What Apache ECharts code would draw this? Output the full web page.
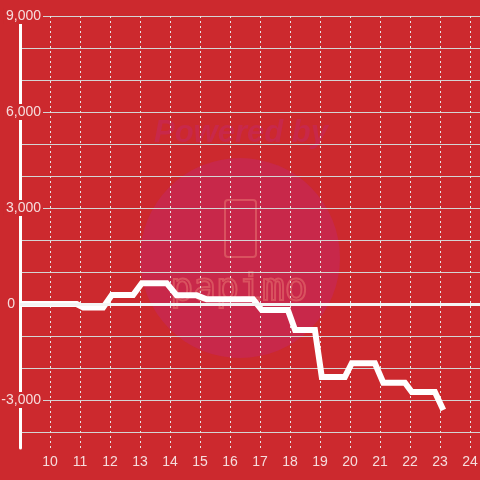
<!DOCTYPE html>
<html>
<head>
<meta charset="utf-8">
<script src="https://cdn.jsdelivr.net/npm/echarts@6/dist/echarts.min.js"></script>
<style>html,body{margin:0;padding:0;background:#cc292e;}#c{width:480px;height:480px;}</style>
</head>
<body>
<div id="c"></div>
<script>
// Data (hour of day vs cumulative value)
var hours = [9, 10.89, 11.11, 11.77, 12.06, 12.77, 13.06, 13.89, 14.22, 14.89, 15.22, 16.77, 17.06, 17.93, 18.17, 18.83, 19.06, 19.83, 20.06, 20.83, 21.11, 21.83, 22.06, 22.83, 23.11];
var values = [0, 0, -110, -110, 280, 280, 650, 650, 270, 270, 150, 150, -190, -190, -810, -810, -2280, -2280, -1850, -1850, -2460, -2460, -2750, -2750, -3310];
var xTickLabels = [10, 11, 12, 13, 14, 15, 16, 17, 18, 19, 20, 21, 22, 23, 24];
var yGridValues = [-4000, -3000, -2000, -1000, 0, 1000, 2000, 3000, 4000, 5000, 6000, 7000, 8000, 9000];
var yTickLabels = [-3000, 0, 3000, 6000, 9000];

var BG = '#cc292e';
var TXT = '#f6dcdc';
var chart = echarts.init(document.getElementById('c'), null, {renderer: 'canvas'});
var lineData = hours.map(function (h, i) { return [h, values[i]]; });

chart.setOption({
  backgroundColor: BG,
  animation: false,
  grid: {left: 20, right: 0, top: 16, bottom: 32, containLabel: false, outerBoundsMode: 'none'},
  graphic: [
    {type: 'circle', z: -10, shape: {cx: 240, cy: 258, r: 100}, style: {fill: '#c8284a'}, silent: true},
    {type: 'text', z: -10, x: 241, y: 133, style: {text: 'Powered by', fill: '#c8284a', font: 'italic bold 31px "Liberation Sans", sans-serif', align: 'center', verticalAlign: 'middle'}, silent: true},
    {type: 'rect', z: -9, shape: {x: 225, y: 200, width: 31, height: 57, r: 3}, style: {fill: 'none', stroke: '#d9525f', lineWidth: 2}, silent: true},
    {type: 'text', z: -9, x: 239, y: 290, style: {text: 'papimo', fill: 'none', stroke: '#d9525f', lineWidth: 2, font: '38px "DejaVu Sans Mono", monospace', align: 'center', verticalAlign: 'middle'}, silent: true}
  ],
  xAxis: {
    type: 'value',
    min: 9,
    max: 9 + 460 / 30,
    axisLine: {show: false},
    axisTick: {show: false, customValues: xTickLabels},
    axisLabel: {customValues: xTickLabels, color: TXT, fontSize: 14, margin: 7, fontFamily: '"Liberation Sans", sans-serif'},
    splitLine: {show: true, lineStyle: {color: '#e6e6e6', width: 1, type: [2, 3]}}
  },
  yAxis: {
    type: 'value',
    min: -4500,
    max: 9000,
    axisLine: {show: true, lineStyle: {color: '#ffffff', width: 3}},
    axisTick: {show: false, customValues: yGridValues},
    axisLabel: {
      customValues: yTickLabels,
      margin: -23,
      color: TXT,
      fontSize: 14,
      fontFamily: '"Liberation Sans", sans-serif',
      formatter: function (v) {
        if (v === 0) return '{z|0}';
        return '{b|' + echarts.format.addCommas(v) + '}';
      },
      rich: {
        b: {backgroundColor: BG, padding: [1, 2, 1, 2], color: TXT, fontSize: 14},
        z: {padding: [0, 28, 0, 0], color: TXT, fontSize: 14}
      }
    },
    splitLine: {show: true, lineStyle: {color: '#d4d4d4', width: 1}}
  },
  series: [
    {
      type: 'line', data: [], z: 1, silent: true,
      markLine: {
        silent: true, symbol: ['none', 'none'], label: {show: false},
        lineStyle: {color: '#f4f4f4', width: 3, type: 'solid'},
        data: [{yAxis: 0}]
      }
    },
    {
      type: 'line', data: lineData, z: 3, showSymbol: false, symbol: 'none',
      lineStyle: {color: '#ffffff', width: 6, join: 'miter'}
    }
  ]
});
</script>
</body>
</html>
